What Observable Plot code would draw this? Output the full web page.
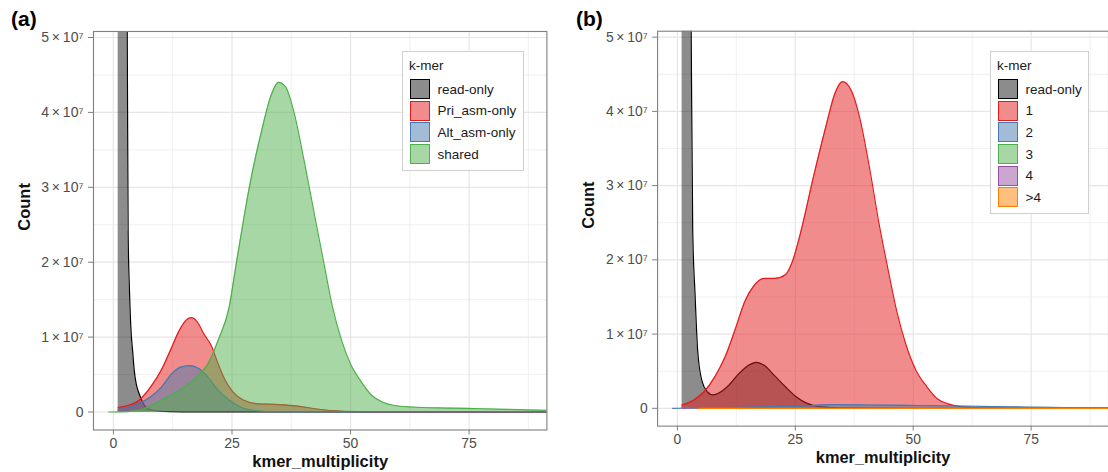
<!DOCTYPE html>
<html>
<head>
<meta charset="utf-8">
<script src="https://cdn.jsdelivr.net/npm/d3@7"></script>
<script src="https://cdn.jsdelivr.net/npm/@observablehq/plot@0.6"></script>
<style>
  html, body { margin: 0; padding: 0; background: #fff; overflow: hidden; }
  #root { position: relative; width: 1108px; height: 472px; overflow: hidden; font-family: "Liberation Sans", Arial, Helvetica, sans-serif; }
  .panel { position: absolute; top: 0; }
  .tag { position: absolute; font-weight: bold; font-size: 21px; line-height: 21px; color: #000; }
  .legend { position: absolute; background: #fff; border: 1px solid #cfcfcf; box-sizing: border-box; color: #1a1a1a; }
  .legend .ttl { position: absolute; font-size: 13.5px; line-height: 14px; }
  .legend .row { position: absolute; display: flex; align-items: center; height: 21.6px; }
  .legend .sw { width: 20px; height: 20px; box-sizing: border-box; border-width: 1.5px; border-style: solid; }
  .legend .lab { font-size: 13.5px; margin-left: 8px; white-space: nowrap; }
</style>
</head>
<body>
<div id="root"></div>
<script>
// ---------- tick and category data ----------
const xTicks = [0, 25, 50, 75];
const xMinorTicks = [12.5, 37.5, 62.5, 87.5];
const yTicks = [0, 1e7, 2e7, 3e7, 4e7, 5e7];
const yMinorTicks = [0.5e7, 1.5e7, 2.5e7, 3.5e7, 4.5e7];
const yTickLabels = ["0", "1\u2009×\u200910⁷", "2\u2009×\u200910⁷", "3\u2009×\u200910⁷", "4\u2009×\u200910⁷", "5\u2009×\u200910⁷"];

const seriesA = ["read-only", "Pri_asm-only", "Alt_asm-only", "shared"];
const colorsA = ["#000000", "#E41A1C", "#4579B0", "#4DAF4A"];
const seriesB = ["read-only", "1", "2", "3", "4", ">4"];
const colorsB = ["#000000", "#E41A1C", "#4579B0", "#4DAF4A", "#984EA3", "#FF7F00"];

// ---------- panel (a) series (x = kmer multiplicity, y = count) ----------
const aReadX = [1, 2, 2.9, 3.1, 3.4, 3.7, 4.07, 4.4, 4.8, 5.45, 6.15, 6.9, 7.8, 10, 12, 15, 20, 30, 50, 91.4];
const aReadY = [1.2e8, 1.1e8, 5.3e7, 2.4e7, 1.6e7, 1.1e7, 8.0e6, 5.5e6, 3.8e6, 2.4e6, 1.3e6, 6e5, 3e5, 1e5, 5e4, 3e4, 2e4, 1e4, 5e3, 2e3];

const aPriX = [1, 4.8, 7.8, 10.1, 12, 13.9, 15.4, 16.5, 17.6, 19.1, 20.6, 22.1, 23.6, 25.2, 27.4, 30.4, 34.9, 38.7, 42.5, 46.2, 51.5, 60, 91.4];
const aPriY = [6e5, 1.3e6, 3.3e6, 5.6e6, 8.2e6, 1.09e7, 1.23e7, 1.26e7, 1.21e7, 1.04e7, 8.9e6, 6.4e6, 4.2e6, 2.7e6, 1.6e6, 1.1e6, 1.0e6, 8e5, 4.4e5, 1.8e5, 5e4, 2e4, 0];

const aAltX = [1, 4, 7.8, 10.1, 12.3, 14.2, 16.1, 18, 19.9, 22.1, 24.4, 26.7, 29.7, 33, 50, 91.4];
const aAltY = [3e5, 8e5, 2.0e6, 3.3e6, 5.1e6, 6.0e6, 6.2e6, 5.8e6, 4.7e6, 2.9e6, 1.6e6, 7e5, 2e5, 5e4, 1e4, 0];

const aSharedX = [-1, 3, 6.3, 10.1, 13.9, 17.6, 19.9, 22.1, 24.4, 25.9, 27.4, 28.9, 31.2, 33.1, 34.8, 36.4, 38, 40.2, 42.8, 44.4, 46.2, 48.1, 50, 52.3, 54.5, 56.8, 59, 62.8, 70.3, 77.9, 85.4, 91.4];
const aSharedY = [0, 5e4, 4e5, 1.6e6, 2.9e6, 4.7e6, 6.4e6, 9.6e6, 1.4e7, 1.98e7, 2.55e7, 3.08e7, 3.74e7, 4.2e7, 4.4e7, 4.33e7, 4.02e7, 3.36e7, 2.5e7, 1.98e7, 1.4e7, 9.6e6, 6.4e6, 4.0e6, 2.2e6, 1.3e6, 9e5, 6.7e5, 5.3e5, 4.4e5, 3.1e5, 2.2e5];

// ---------- panel (b) series ----------
const bReadX = [1, 2, 2.9, 3.25, 3.75, 4.3, 5.25, 6.4, 7.5, 8.6, 10.9, 13.1, 15.4, 16.7, 18.4, 20.6, 22.9, 25.1, 27.4, 30.4, 35, 50, 91.4];
const bReadY = [1.2e8, 1.1e8, 5.3e7, 2.4e7, 1.53e7, 7.8e6, 3.6e6, 2.2e6, 1.8e6, 2.0e6, 3.1e6, 4.7e6, 5.9e6, 6.2e6, 5.8e6, 4.4e6, 2.9e6, 1.6e6, 7e5, 2e5, 5e4, 1e4, 0];

const b1X = [1, 3.4, 5.6, 7.9, 10.1, 12.4, 14.3, 16.1, 18.4, 20.6, 22.9, 24.4, 25.9, 28.9, 31.5, 33.4, 35, 36.8, 38.6, 40.9, 42.8, 44.6, 46.5, 48.4, 50.6, 52.9, 55.1, 57.4, 60.4, 65, 91.4];
const b1Y = [4.5e5, 1.1e6, 2.2e6, 4.2e6, 6.9e6, 1.09e7, 1.44e7, 1.64e7, 1.75e7, 1.75e7, 1.8e7, 1.98e7, 2.31e7, 3.13e7, 3.8e7, 4.24e7, 4.4e7, 4.29e7, 3.93e7, 3.18e7, 2.47e7, 1.89e7, 1.31e7, 8.7e6, 5.1e6, 2.9e6, 1.3e6, 6e5, 2e5, 5e4, 0];

const b2X = [-1, 5, 10.9, 18, 25.9, 33.4, 41, 48, 56, 63, 71, 78, 86, 91.4];
const b2Y = [0, 5e4, 1e5, 2e5, 3e5, 5e5, 4.5e5, 4e5, 3.5e5, 2.8e5, 2e5, 1.3e5, 8e4, 5e4];

const b3X = [1, 2, 3, 4, 6, 10, 20, 91.4];
const b3Y = [1e5, 1.2e5, 8e4, 4e4, 1e4, 0, 0, 0];

const b4X = [1, 2, 3, 4, 5, 6, 10, 91.4];
const b4Y = [3e4, 4e4, 5e4, 4e4, 2e4, 1e4, 0, 0];

const b5X = [4.4, 10, 20, 30, 40, 50, 60, 70, 80, 91.4];
const b5Y = [0, 0, 0, 0, 0, 0, 0, 0, 0, 0];

// ---------- build tables ----------
function table(name, xs, ys) { return xs.map((x, i) => ({s: name, x, y: ys[i]})); }
const dataA = [
  ...table(seriesA[0], aReadX, aReadY),
  ...table(seriesA[1], aPriX, aPriY),
  ...table(seriesA[2], aAltX, aAltY),
  ...table(seriesA[3], aSharedX, aSharedY)
];
const dataB = [
  ...table(seriesB[0], bReadX, bReadY),
  ...table(seriesB[1], b1X, b1Y),
  ...table(seriesB[2], b2X, b2Y),
  ...table(seriesB[3], b3X, b3Y),
  ...table(seriesB[4], b4X, b4Y),
  ...table(seriesB[5], b5X, b5Y)
];

const gridColor = "#e9e4e6";
const axisGrey = "#7f7f7f";
const textGrey = "#4d4d4d";
const FONT = "'Liberation Sans', Arial, Helvetica, sans-serif";

function panel({data, series, colors, width, marginLeft, marginRight}) {
  const fillOp = s => (s === "read-only" ? 0.45 : 0.5);
  const marks = [
    Plot.gridX({ticks: xMinorTicks, stroke: gridColor, strokeOpacity: 1, strokeWidth: 0.6}),
    Plot.gridY({ticks: yMinorTicks, stroke: gridColor, strokeOpacity: 1, strokeWidth: 0.6}),
    Plot.gridX({ticks: xTicks, stroke: gridColor, strokeOpacity: 1, strokeWidth: 1.2}),
    Plot.gridY({ticks: yTicks, stroke: gridColor, strokeOpacity: 1, strokeWidth: 1.2})
  ];
  series.forEach((s, i) => {
    const d = data.filter(r => r.s === s);
    marks.push(Plot.areaY(d, {x: "x", y: "y", fill: colors[i], fillOpacity: fillOp(s), curve: "monotone-x", clip: true}));
    marks.push(Plot.lineY(d, {x: "x", y: "y", stroke: colors[i], strokeWidth: 1.2, curve: "monotone-x", clip: true}));
  });
  marks.push(
    Plot.frame({stroke: axisGrey, strokeWidth: 1.1}),
    Plot.axisX({ticks: xTicks, tickSize: 5, tickPadding: 3, stroke: axisGrey, fill: textGrey, fontSize: 14, label: null}),
    Plot.axisY({ticks: yTicks, tickSize: 5, tickPadding: 5, stroke: axisGrey, fill: textGrey, fontSize: 14, label: null,
      tickFormat: v => yTickLabels[yTicks.indexOf(v)]}),
    Plot.text(["kmer_multiplicity"], {frameAnchor: "bottom", dy: 37, text: d => d, fontWeight: "bold", fontSize: 16.5, fill: "#111"}),
    Plot.text(["Count"], {frameAnchor: "left", dx: -69, text: d => d, rotate: -90, fontWeight: "bold", fontSize: 16.5, fill: "#111"})
  );
  return Plot.plot({
    width, height: 472,
    marginLeft, marginRight, marginTop: 31, marginBottom: 42.5,
    x: {domain: [-4.2, 91.4]},
    y: {domain: [-2.4e6, 5.08e7]},
    style: {fontFamily: FONT, background: "transparent", overflow: "visible"},
    marks
  });
}

function legend({left, top, width, height, series, colors}) {
  const box = document.createElement("div");
  box.className = "legend";
  Object.assign(box.style, {left: left + "px", top: top + "px", width: width + "px", height: height + "px"});
  const ttl = document.createElement("div");
  ttl.className = "ttl"; ttl.textContent = "k-mer";
  Object.assign(ttl.style, {left: "6px", top: "7px"});
  box.appendChild(ttl);
  series.forEach((s, i) => {
    const row = document.createElement("div");
    row.className = "row";
    Object.assign(row.style, {left: "6.5px", top: (26.5 + i * 21.6) + "px"});
    const sw = document.createElement("div");
    sw.className = "sw";
    const c = d3.color(colors[i]);
    const op = s === "read-only" ? 0.45 : 0.5;
    sw.style.background = `rgba(${c.r},${c.g},${c.b},${op})`;
    sw.style.borderColor = colors[i];
    const lab = document.createElement("div");
    lab.className = "lab"; lab.textContent = s;
    row.appendChild(sw); row.appendChild(lab);
    box.appendChild(row);
  });
  return box;
}

const root = document.getElementById("root");

const wrapA = document.createElement("div");
wrapA.className = "panel"; wrapA.style.left = "0px";
wrapA.appendChild(panel({data: dataA, series: seriesA, colors: colorsA, width: 555, marginLeft: 93, marginRight: 8.6}));
root.appendChild(wrapA);

const wrapB = document.createElement("div");
wrapB.className = "panel"; wrapB.style.left = "555px";
wrapB.appendChild(panel({data: dataB, series: seriesB, colors: colorsB, width: 558, marginLeft: 103, marginRight: 0}));
root.appendChild(wrapB);

root.appendChild(legend({left: 402, top: 51, width: 122, height: 120, series: seriesA, colors: colorsA}));
root.appendChild(legend({left: 990, top: 51, width: 99, height: 163, series: seriesB, colors: colorsB}));

const tagA = document.createElement("div");
tagA.className = "tag"; tagA.textContent = "(a)";
Object.assign(tagA.style, {left: "11px", top: "8px"});
root.appendChild(tagA);
const tagB = document.createElement("div");
tagB.className = "tag"; tagB.textContent = "(b)";
Object.assign(tagB.style, {left: "576px", top: "8px"});
root.appendChild(tagB);
</script>
</body>
</html>
